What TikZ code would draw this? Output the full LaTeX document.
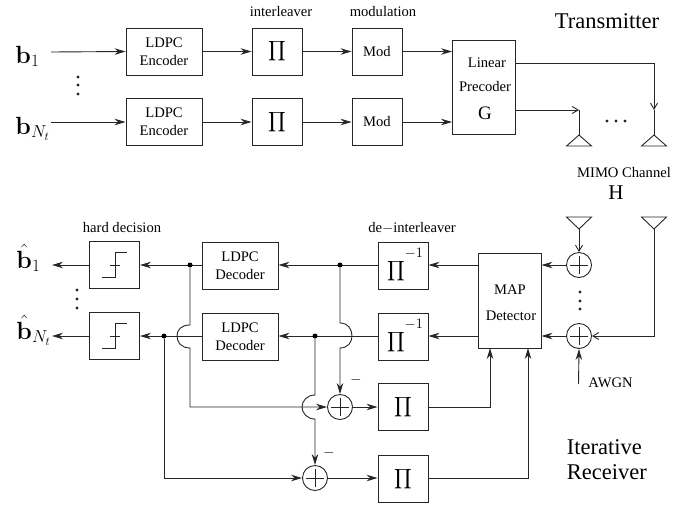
\documentclass[tikz,border=0pt]{standalone}
\usepackage[no-math]{fontspec}
\setmainfont{Liberation Serif}
\usetikzlibrary{arrows.meta}
\DeclareMathSizes{24}{24}{17}{12}
\newcommand{\bigpi}{\scalebox{1.38}{$\displaystyle\prod$}}
\newcommand{\invpi}{\raisebox{-10pt}{\scalebox{1.38}{$\displaystyle\prod$}}\hspace{0pt}\raisebox{9pt}{\fontsize{15}{15}\selectfont$-1$}\hspace{-4pt}}
\tikzset{
  every path/.style={line width=0.9pt,color=black!85},
  every node/.style={text=black,font=\fontsize{14.6}{18}\selectfont},
  blk/.style={draw,minimum width=#1,align=center,inner sep=0pt},
  blk/.default=76pt,
  enc/.style={blk=76pt,minimum height=47pt},
  sq/.style={blk=50pt,minimum height=47pt},
  adder/.style={draw,circle,minimum size=25pt,inner sep=0pt,
    path picture={\draw (path picture bounding box.center)+(-9pt,0)--+(9pt,0) (path picture bounding box.center)+(0,-9pt)--+(0,9pt);}},
  dotj/.style={circle,fill=black,minimum size=5pt,inner sep=0pt},
  ar/.style={-{Stealth[length=11pt,width=6.5pt]}},
  op/.style={-{Straight Barb[length=6pt,width=7pt]}},
  bigb/.style={font=\fontsize{24}{24}\selectfont,anchor=base west,inner sep=0pt},
  big/.style={font=\fontsize{22.5}{25}\selectfont},
}
\begin{document}
\begin{tikzpicture}[x=1pt,y=-1pt]
\useasboundingbox (0,0) rectangle (684,504);
% transmitter
\node[bigb] (b1) at (15,63) {$\mathbf{b}_1$};
\node[bigb] (bn) at (15,134) {$\mathbf{b}_{N_t}$};
\coordinate (b1s) at (51,52);
\coordinate (bns) at (51,122);
\node[enc] (enc1) at (164,51.5) {LDPC\\Encoder};
\node[enc] (enc2) at (164,122) {LDPC\\Encoder};
\node[sq] (pi1) at (277,51.5) {\bigpi};
\node[sq] (pi2) at (277,122) {\bigpi};
\node[sq] (mod1) at (377,51.5) {Mod};
\node[sq] (mod2) at (377,122) {Mod};
\node[draw,minimum width=63pt,minimum height=94pt,inner sep=0pt] (prec) at (484,87) {};
\node (linear) at (487,63) {Linear};
\node (precoder) at (485,87) {Precoder};
\node[font=\fontsize{19}{19}\selectfont] (g) at (485,113) {G};
\draw[ar] (b1s) -- (enc1.west);
\draw[ar] (bns) -- (enc2.west);
\draw[ar] (enc1) -- (pi1);
\draw[ar] (enc2) -- (pi2);
\draw[ar] (pi1) -- (mod1);
\draw[ar] (pi2) -- (mod2);
\draw[ar] (mod1.east) -- (mod1.east -| prec.west);
\draw[ar] (mod2.east) -- (mod2.east -| prec.west);
\coordinate (out1) at (515.5,63);
\coordinate (out2) at (515.5,110);
\coordinate (ta1) at (579,135);
\coordinate (ta2) at (654,135);
\draw (ta1) -- ++(-12.5,11) -- ++(25,0) -- cycle;
\draw (ta2) -- ++(-12.5,11) -- ++(25,0) -- cycle;
\draw[op] (out2) -- (out2 -| ta1);
\draw (out2 -| ta1) -- (ta1);
\draw[op] (out1) -| (654,110);
\draw (654,110) -- (ta2);
\foreach \x in {607,616,625} \fill (\x,121) circle (1.6pt);
\foreach \y in {77,85,94} \fill (78,\y) circle (1.7pt);
\node (lint) at (281,12) {interleaver};
\node (lmod) at (383,12) {modulation};
\node[big] (ltx) at (607,21) {Transmitter};
\node (lmimo) at (624,172) {MIMO Channel};
\node[font=\fontsize{21}{21}\selectfont] (lh) at (616,193) {H};
% receiver
\node[bigb] (h1) at (16,268) {$\hat{\mathbf{b}}_1$};
\node[bigb] (hn) at (16,339) {$\hat{\mathbf{b}}_{N_t}$};
\coordinate (h1e) at (52,265);
\coordinate (hne) at (52,336);
\node[sq] (hd1) at (114.5,265) {};
\node[sq] (hd2) at (114.5,336) {};
\node[enc] (dec1) at (240,265.5) {LDPC\\Decoder};
\node[enc] (dec2) at (240,337) {LDPC\\Decoder};
\node[sq] (ipi1) at (403,265.5) {\invpi};
\node[sq] (ipi2) at (403,336.5) {\invpi};
\node[draw,minimum width=63pt,minimum height=95pt,inner sep=0pt] (map) at (509.5,300.5) {};
\node (lmap) at (510,290) {MAP};
\node (ldet) at (511,316) {Detector};
\node[adder] (ad1) at (579,265) {};
\node[adder] (ad2) at (579,336) {};
\node[adder] (ad3) at (340,407) {};
\node[adder] (ad4) at (315,478) {};
\node[sq] (pi3) at (403,407) {\bigpi};
\node[sq] (pi4) at (403,479) {\bigpi};
\coordinate (ra1) at (579,229);
\coordinate (ra2) at (654,229);
\draw (ra1) -- ++(-12.5,-12) -- ++(25,0) -- cycle;
\draw (ra2) -- ++(-12.5,-12) -- ++(25,0) -- cycle;
\draw[op] (ra1) -- (ad1.north);
\draw[op] (ra2) |- (ad2.east);
\coordinate (awgn) at (578.5,384);
\draw[ar] (awgn) -- (ad2.south);
\node (lawgn) at (610.5,383) {AWGN};
\draw[ar] (ad1.west) -- (ad1.west -| map.east);
\draw[ar] (ad2.west) -- (ad2.west -| map.east);
\draw[ar] (ad1 -| map.west) -- (ipi1.east |- ad1);
\draw[ar] (ad2 -| map.west) -- (ipi2.east |- ad2);
\draw[ar] (ipi1.west |- ad1) -- (dec1.east |- ad1);
\draw[ar] (ipi2.west |- ad2) -- (dec2.east |- ad2);
\draw[ar] (dec1.west |- ad1) -- (hd1.east);
\draw[ar] (dec2.west |- ad2) -- (hd2.east);
\draw[ar] (hd1.west) -- (h1e);
\draw[ar] (hd2.west) -- (hne);
% hard-decision steps
\draw (102,277) -- (115,277) -- (115,252) -- (127,252) (110,265) -- (120,265);
\draw (102,348) -- (115,348) -- (115,323) -- (127,323) (110,336) -- (120,336);
% junctions
\node[dotj] (j1) at (190,265) {};
\node[dotj] (j2) at (340,265) {};
\node[dotj] (j3) at (164,336) {};
\node[dotj] (j4) at (315,336) {};
% feedback
\draw[ar] (j1) -- (190,325) .. controls (181,325) and (177,330) .. (177,336) .. controls (177,342) and (181,348) .. (190,348) -- (190,407) -- (ad3.west);
\draw[ar] (j2) -- (340,323) .. controls (348,323) and (352,329) .. (352,336) .. controls (352,342) and (348,348) .. (340,348) -- (ad3.north);
\draw[ar] (j4) -- (315,395) .. controls (307,395) and (302,401) .. (302,407) .. controls (302,413) and (307,419) .. (315,419) -- (ad4.north);
\draw[ar] (j3) |- (ad4.west);
\draw[ar] (ad3) -- (pi3);
\draw[ar] (ad4.east) -- (ad4.east -| pi4.west);
\draw[ar] (pi3.east) -| (490,348);
\draw[ar] (pi4.east |- ad4) -| (528,348);
\node[inner sep=0pt] (m1) at (356,380) {$-$};
\node[inner sep=0pt] (m2) at (329,453) {$-$};
\foreach \y in {290,299,308} \fill (77,\y) circle (1.7pt);
\foreach \y in {292,301,309} \fill (580,\y) circle (1.7pt);
\node (lhd) at (122,227) {hard decision};
\node (ldei) at (412,228) {de$-$interleaver};
\node[big,anchor=west,align=left] (lrx) at (563,459.5) {Iterative\\Receiver};
\end{tikzpicture}
\end{document}
